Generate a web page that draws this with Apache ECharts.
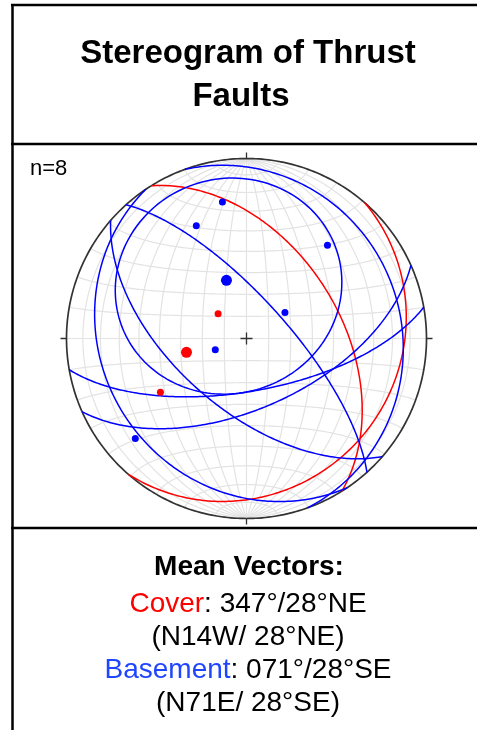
<!DOCTYPE html>
<html><head><meta charset="utf-8">
<script src="https://cdn.jsdelivr.net/npm/echarts@6/dist/echarts.min.js"></script>
<style>html,body{margin:0;padding:0;background:#fff}#c{width:477px;height:730px}</style>
</head><body><div id="c"></div>
<script>
// ---- data (strike / dip, right-hand rule) ----
const coverStrikes = [41, 328];
const coverDips = [17, 47];
const basementStrikes = [80, 66, 131, 146, 340, 318];
const basementDips = [66, 58, 58, 21, 15, 72];
const meanCover = [347, 28];      // 347°/28°NE
const meanBasement = [71, 28];    // 071°/28°SE
const basementConeDeg = 51.5;     // cone about the basement mean pole
const gridStep = 10;

const D = Math.PI / 180;
function project(E, N, Z) {
  if (Z > 0) { E = -E; N = -N; Z = -Z; }
  const s = 1 / Math.sqrt(1 - Z);
  return [E * s, N * s];
}
function planeCoords(strike, dip) {
  const dd = strike + 90;
  const s = [Math.sin(strike * D), Math.cos(strike * D), 0];
  const d = [Math.sin(dd * D) * Math.cos(dip * D), Math.cos(dd * D) * Math.cos(dip * D), -Math.sin(dip * D)];
  const pts = [];
  for (let t = 0; t <= 180; t += 1) {
    const c = Math.cos(t * D), si = Math.sin(t * D);
    pts.push(project(c * s[0] + si * d[0], c * s[1] + si * d[1], c * s[2] + si * d[2]));
  }
  return pts;
}
function poleVec(strike, dip) {
  const tr = strike + 90 + 180, pl = 90 - dip;
  return [Math.sin(tr * D) * Math.cos(pl * D), Math.cos(tr * D) * Math.cos(pl * D), -Math.sin(pl * D)];
}
function poleCoord(strike, dip) { const v = poleVec(strike, dip); return project(v[0], v[1], v[2]); }
function coneCoords(strike, dip, radiusDeg) {
  const a = poleVec(strike, dip);
  // u: horizontal perpendicular to a, w = a x u
  let u = [-a[1], a[0], 0];
  const lu = Math.hypot(u[0], u[1]); u = [u[0] / lu, u[1] / lu, 0];
  const w = [a[1] * u[2] - a[2] * u[1], a[2] * u[0] - a[0] * u[2], a[0] * u[1] - a[1] * u[0]];
  const ca = Math.cos(radiusDeg * D), sa = Math.sin(radiusDeg * D);
  const pts = [];
  for (let f = 0; f <= 360; f += 2) {
    const cf = Math.cos(f * D), sf = Math.sin(f * D);
    pts.push(project(ca * a[0] + sa * (cf * u[0] + sf * w[0]), ca * a[1] + sa * (cf * u[1] + sf * w[1]), ca * a[2] + sa * (cf * u[2] + sf * w[2])));
  }
  return pts;
}
const gridLines = [];
for (let lon = -90 + gridStep; lon < 90; lon += gridStep) {
  const pts = [];
  for (let lat = -90; lat <= 90; lat += 1) {
    pts.push(project(Math.cos(lat * D) * Math.sin(lon * D), Math.sin(lat * D), -Math.cos(lat * D) * Math.cos(lon * D)));
  }
  gridLines.push({ coords: pts });
}
for (let lat = -90 + gridStep; lat < 90; lat += gridStep) {
  const pts = [];
  for (let lon = -90; lon <= 90; lon += 1) {
    pts.push(project(Math.cos(lat * D) * Math.sin(lon * D), Math.sin(lat * D), -Math.cos(lat * D) * Math.cos(lon * D)));
  }
  gridLines.push({ coords: pts });
}
const prim = [];
for (let a = 0; a <= 360; a += 1) prim.push([Math.sin(a * D), Math.cos(a * D)]);
const tk = 6 / 180, cr = 6 / 180;
const marks = [
  { coords: [[0, 1], [0, 1 + tk]] }, { coords: [[0, -1], [0, -1 - tk]] },
  { coords: [[1, 0], [1 + tk, 0]] }, { coords: [[-1, 0], [-1 - tk, 0]] },
  { coords: [[-cr, 0], [cr, 0]] }, { coords: [[0, -cr], [0, cr]] }
];
const circles = [];
coverStrikes.forEach((s, i) => circles.push({ coords: planeCoords(s, coverDips[i]), lineStyle: { color: '#ff0000' } }));
basementStrikes.forEach((s, i) => circles.push({ coords: planeCoords(s, basementDips[i]), lineStyle: { color: '#0000ff' } }));
circles.push({ coords: coneCoords(meanBasement[0], meanBasement[1], basementConeDeg), lineStyle: { color: '#0000ff' } });
const coverPoles = coverStrikes.map((s, i) => poleCoord(s, coverDips[i]));
const basePoles = basementStrikes.map((s, i) => poleCoord(s, basementDips[i]));

const chart = echarts.init(document.getElementById('c'), null, { renderer: 'canvas' });
const FF = '"Liberation Sans", Arial, Helvetica, sans-serif';
chart.setOption({
  animation: false,
  grid: { left: 48.5, top: 140.5, width: 396, height: 396 },
  xAxis: { type: 'value', min: -1.1, max: 1.1, show: false },
  yAxis: { type: 'value', min: -1.1, max: 1.1, show: false },
  series: [
    { type: 'lines', coordinateSystem: 'cartesian2d', polyline: true, silent: true, z: 1,
      lineStyle: { color: '#e3e3e3', width: 1.2, opacity: 1 }, data: gridLines },
    { type: 'lines', coordinateSystem: 'cartesian2d', polyline: true, silent: true, z: 2,
      lineStyle: { color: '#333333', width: 1.7, opacity: 1 }, data: [{ coords: prim }] },
    { type: 'lines', coordinateSystem: 'cartesian2d', polyline: true, silent: true, z: 2,
      lineStyle: { color: '#333333', width: 1.3, opacity: 1 }, data: marks },
    { type: 'lines', coordinateSystem: 'cartesian2d', polyline: true, silent: true, z: 3,
      lineStyle: { width: 1.5, opacity: 1 }, data: circles },
    { type: 'scatter', z: 4, symbolSize: 7, itemStyle: { color: '#ff0000', opacity: 1 }, data: coverPoles },
    { type: 'scatter', z: 4, symbolSize: 7, itemStyle: { color: '#0000ff', opacity: 1 }, data: basePoles },
    { type: 'scatter', z: 5, symbolSize: 11, itemStyle: { color: '#ff0000', opacity: 1 }, data: [poleCoord(meanCover[0], meanCover[1])] },
    { type: 'scatter', z: 5, symbolSize: 11, itemStyle: { color: '#0000ff', opacity: 1 }, data: [poleCoord(meanBasement[0], meanBasement[1])] }
  ],
  graphic: [
    { type: 'line', shape: { x1: 12.5, y1: 4, x2: 12.5, y2: 730 }, style: { stroke: '#000', lineWidth: 2.5 } },
    { type: 'line', shape: { x1: 11, y1: 5, x2: 477, y2: 5 }, style: { stroke: '#000', lineWidth: 2.5 } },
    { type: 'line', shape: { x1: 11, y1: 144, x2: 477, y2: 144 }, style: { stroke: '#000', lineWidth: 2.5 } },
    { type: 'line', shape: { x1: 11, y1: 528, x2: 477, y2: 528 }, style: { stroke: '#000', lineWidth: 2.5 } },
    { type: 'text', x: 248, y: 54, style: { text: 'Stereogram of Thrust', font: 'bold 33px ' + FF, fill: '#000', textAlign: 'center', textVerticalAlign: 'middle' } },
    { type: 'text', x: 241, y: 97, style: { text: 'Faults', font: 'bold 33px ' + FF, fill: '#000', textAlign: 'center', textVerticalAlign: 'middle' } },
    { type: 'text', x: 30, y: 169, style: { text: 'n=8', font: '22px ' + FF, fill: '#000', textAlign: 'left', textVerticalAlign: 'middle' } },
    { type: 'text', x: 249, y: 567, style: { text: 'Mean Vectors:', font: 'bold 28px ' + FF, fill: '#000', textAlign: 'center', textVerticalAlign: 'middle' } },
    { type: 'text', x: 248, y: 604, style: { text: '{r|Cover}: ' + String(meanCover[0]).padStart(3, '0') + '°/' + meanCover[1] + '°NE', font: '28px ' + FF, fill: '#000', textAlign: 'center', textVerticalAlign: 'middle',
      rich: { r: { fill: '#ff0000', fontSize: 28, fontFamily: FF } } } },
    { type: 'text', x: 248, y: 637, style: { text: '(N14W/ 28°NE)', font: '28px ' + FF, fill: '#000', textAlign: 'center', textVerticalAlign: 'middle' } },
    { type: 'text', x: 248, y: 670, style: { text: '{b|Basement}: ' + String(meanBasement[0]).padStart(3, '0') + '°/' + meanBasement[1] + '°SE', font: '28px ' + FF, fill: '#000', textAlign: 'center', textVerticalAlign: 'middle',
      rich: { b: { fill: '#1f45ff', fontSize: 28, fontFamily: FF } } } },
    { type: 'text', x: 248, y: 703, style: { text: '(N71E/ 28°SE)', font: '28px ' + FF, fill: '#000', textAlign: 'center', textVerticalAlign: 'middle' } }
  ]
});
</script></body></html>
